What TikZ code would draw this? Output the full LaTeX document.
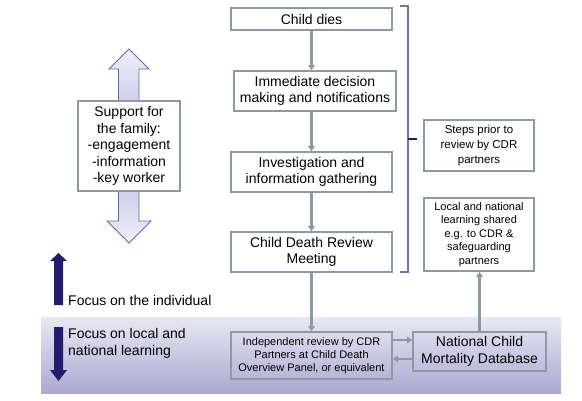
\documentclass[tikz,border=0pt]{standalone}
\usepackage{fontspec}
\setmainfont{Liberation Sans}
\usetikzlibrary{arrows.meta}
\definecolor{boxgray}{HTML}{8E9AA3}
\definecolor{navy}{HTML}{231B6C}
\definecolor{bracecol}{HTML}{7A70B0}
\definecolor{arrowline}{HTML}{6A64AA}
\tikzset{
  stepbox/.style={draw=boxgray, line width=1.6pt, fill=white, align=center, inner sep=2pt,
    font=\fontsize{14}{16.5}\selectfont},
  smallbox/.style={draw=boxgray, line width=1.6pt, fill=white, align=center, inner sep=2pt,
    font=\fontsize{11}{13.5}\selectfont},
  clearbox/.style={draw=boxgray, line width=1.6pt, align=center, inner sep=2pt},
  flow/.style={draw=boxgray, line width=2.2pt, -{Triangle[length=5pt,width=6.5pt]}},
  focustext/.style={font=\fontsize{14}{16.5}\selectfont, align=left, inner sep=0pt}
}
\begin{document}
\begin{tikzpicture}[x=1pt,y=-1pt]
\useasboundingbox (0,0) rectangle (582,400);
% band
\shade[top color={rgb,255:red,232;green,232;blue,243}, bottom color={rgb,255:red,172;green,168;blue,210}]
  (41,317) rectangle (561,393);
% big double arrow
\shade[top color={rgb,255:red,240;green,240;blue,250}, bottom color={rgb,255:red,240;green,240;blue,250},
  middle color={rgb,255:red,180;green,178;blue,222}]
  (129,49) -- (149,69) -- (139,69) -- (139,221) -- (151,221) -- (129,243) -- (107,221) -- (118.5,221) -- (118.5,69) -- (109,69) -- cycle;
\draw[arrowline, line width=0.8pt]
  (129,49) -- (149,69) -- (139,69) -- (139,221) -- (151,221) -- (129,243) -- (107,221) -- (118.5,221) -- (118.5,69) -- (109,69) -- cycle;
% nodes
\node[stepbox, minimum width=102pt, minimum height=90pt] (support) at (129,146)
  {Support for\\the family:\\-engagement\\-information\\-key worker};
\node[stepbox, minimum width=161pt, minimum height=22pt] (dies) at (311.5,19) {Child dies};
\node[stepbox, minimum width=162pt, minimum height=40pt] (immediate) at (315,91)
  {Immediate decision\\making and notifications};
\node[stepbox, minimum width=161pt, minimum height=40pt] (invest) at (311.5,172)
  {Investigation and\\information gathering};
\node[stepbox, minimum width=161pt, minimum height=40pt] (meeting) at (311.5,252)
  {Child Death Review\\Meeting};
\node[clearbox, minimum width=161pt, minimum height=47pt, font=\fontsize{11}{13}\selectfont] (indep) at (311.5,355.5)
  {Independent review by CDR\\Partners at Child Death\\Overview Panel, or equivalent};
\node[clearbox, minimum width=133pt, minimum height=39pt, font=\fontsize{14}{16.5}\selectfont] (ncmd) at (479.5,351.5)
  {National Child\\Mortality Database};
\node[smallbox, minimum width=110pt, minimum height=51pt, font=\fontsize{11.5}{15}\selectfont] (steps) at (479,145.5)
  {Steps prior to\\review by CDR\\partners};
\node[smallbox, minimum width=110pt, minimum height=73pt] (local) at (479,234.5)
  {Local and national\\learning shared\\e.g. to CDR \&\\safeguarding\\partners};
% focus texts
\node[focustext, anchor=west] (indiv) at (68,300) {Focus on the individual};
\node[focustext, anchor=west] (learn) at (68,343.5) {Focus on local and\\national learning};
% dark arrows
\fill[navy] (58.5,253) -- (67,261) -- (63,261) -- (63,305) -- (54,305) -- (54,261) -- (50,261) -- cycle;
\fill[navy] (54,327) -- (63,327) -- (63,370) -- (67,370) -- (58.5,381) -- (50,370) -- (54,370) -- cycle;
% flow connectors
\draw[flow] (dies.south) -- (dies.south |- immediate.north);
\draw[flow] (dies.south |- immediate.south) -- (invest.north);
\draw[flow] (invest.south) -- (meeting.north);
\draw[flow] (meeting.south) -- (indep.north);
\draw[flow] ([yshift=15.5pt]indep.east) -- ([yshift=15.5pt]indep.east -| ncmd.west);
\draw[flow] ([yshift=-3.5pt]indep.east -| ncmd.west) -- ([yshift=-3.5pt]indep.east);
\draw[flow] (ncmd.north) -- (ncmd.north |- local.south);
% bracket
\coordinate (btop) at (400,6);
\coordinate (bbot) at (400,272);
\coordinate (bmid) at (408,139);
\coordinate (btip) at (417,139);
\draw[bracecol, line width=1.6pt] (btop) -- (408,6) -- (408,272) -- (bbot);
\draw[navy, line width=1.6pt] (bmid) -- (btip);
\end{tikzpicture}
\end{document}
